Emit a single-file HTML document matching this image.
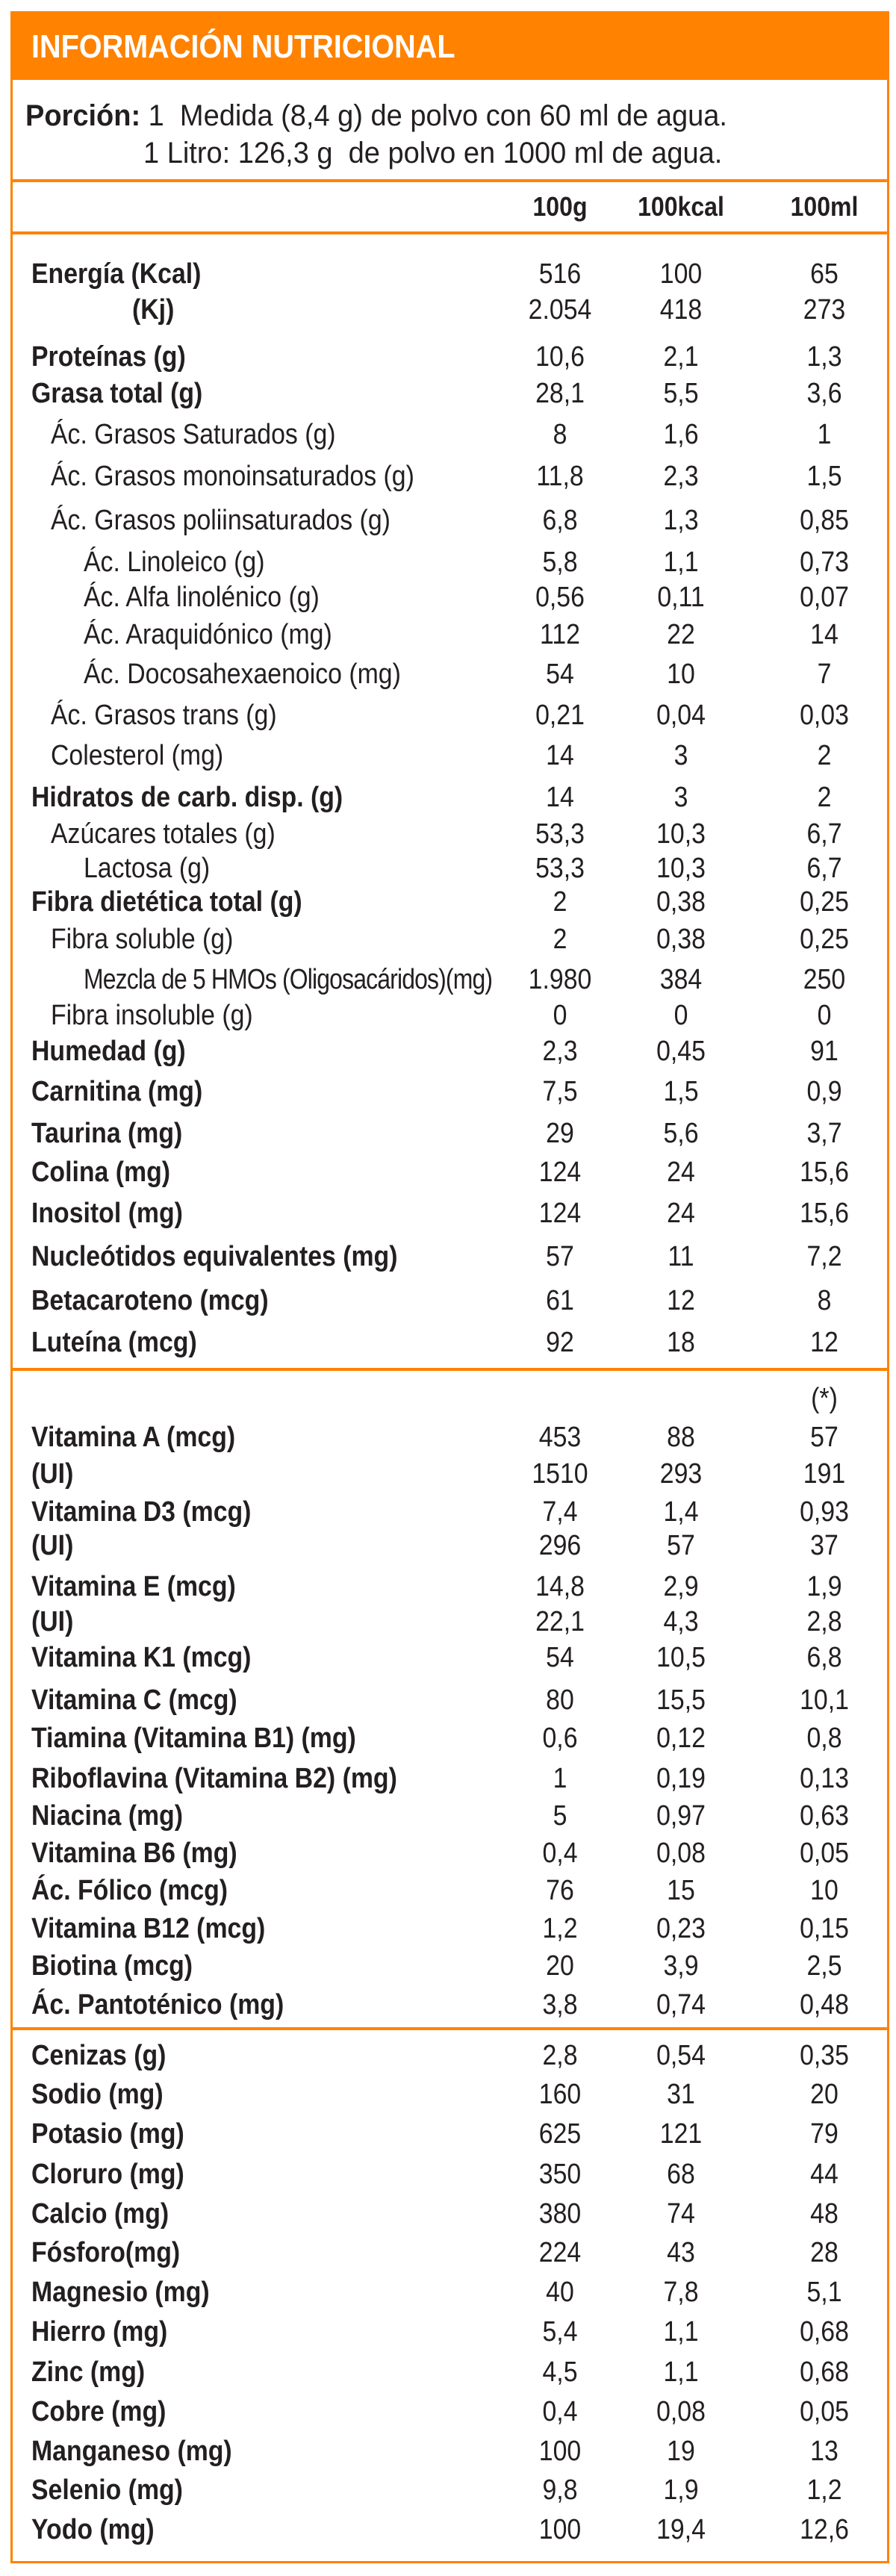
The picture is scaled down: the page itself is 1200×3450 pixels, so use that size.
<!DOCTYPE html>
<html><head><meta charset="utf-8">
<style>
html,body{margin:0;padding:0;background:#fff;}
#page{position:relative;width:1200px;height:3450px;overflow:hidden;font-family:"Liberation Sans",sans-serif;color:#231f20;}
.box{position:absolute;left:14px;top:15px;width:1171px;height:3412px;border:3px solid #ff8200;}
.hdr{position:absolute;left:14px;top:15px;width:1177px;height:92px;background:#ff8200;}
.hline{position:absolute;left:14px;width:1177px;height:4px;background:#ff8200;}
.t{position:absolute;white-space:nowrap;line-height:40px;font-size:38px;transform:scaleX(0.89);transform-origin:left center;}
.v{position:absolute;white-space:nowrap;line-height:40px;font-size:38px;width:200px;text-align:center;transform:scaleX(0.89);transform-origin:center center;}
.b{font-weight:bold;}
</style></head>
<body>
<div id="page">
  <div class="box"></div>
  <div class="hdr"></div>
  <div class="t b" style="left:42px;top:36px;font-size:44px;line-height:54px;color:#fff;transform:scaleX(0.9);">INFORMACIÓN NUTRICIONAL</div>
  <div class="t" style="left:34px;top:135px;font-size:40px;transform:scaleX(0.95);"><b>Porción:</b> 1&nbsp; Medida (8,4 g) de polvo con 60 ml de agua.</div>
  <div class="t" style="left:192px;top:185px;font-size:40px;transform:scaleX(0.95);">1 Litro: 126,3 g&nbsp; de polvo en 1000 ml de agua.</div>
  <div class="hline" style="top:240px;"></div>
  <div class="v b" style="left:650px;top:257px;font-size:36px;">100g</div>
  <div class="v b" style="left:812px;top:257px;font-size:36px;">100kcal</div>
  <div class="v b" style="left:1004px;top:257px;font-size:36px;">100ml</div>
  <div class="hline" style="top:310px;"></div>
  <div class="hline" style="top:1832px;"></div>
  <div class="hline" style="top:2715px;"></div>
  <div class="v" style="left:1004px;top:1853px;">(*)</div>
</div>
<script>
const labels = ["Energía (Kcal)","(Kj)","Proteínas (g)","Grasa total (g)","Ác. Grasos Saturados (g)","Ác. Grasos monoinsaturados (g)","Ác. Grasos poliinsaturados (g)","Ác. Linoleico (g)","Ác. Alfa linolénico (g)","Ác. Araquidónico (mg)","Ác. Docosahexaenoico (mg)","Ác. Grasos trans (g)","Colesterol (mg)","Hidratos de carb. disp. (g)","Azúcares totales (g)","Lactosa (g)","Fibra dietética total (g)","Fibra soluble (g)","Mezcla de 5 HMOs (Oligosacáridos)(mg)","Fibra insoluble (g)","Humedad (g)","Carnitina (mg)","Taurina (mg)","Colina (mg)","Inositol (mg)","Nucleótidos equivalentes (mg)","Betacaroteno (mcg)","Luteína (mcg)","Vitamina A (mcg)","(UI)","Vitamina D3 (mcg)","(UI)","Vitamina E (mcg)","(UI)","Vitamina K1 (mcg)","Vitamina C (mcg)","Tiamina (Vitamina B1) (mg)","Riboflavina (Vitamina B2) (mg)","Niacina (mg)","Vitamina B6 (mg)","Ác. Fólico (mcg)","Vitamina B12 (mcg)","Biotina (mcg)","Ác. Pantoténico (mg)","Cenizas (g)","Sodio (mg)","Potasio (mg)","Cloruro (mg)","Calcio (mg)","Fósforo(mg)","Magnesio (mg)","Hierro (mg)","Zinc (mg)","Cobre (mg)","Manganeso (mg)","Selenio (mg)","Yodo (mg)"];
const per100g = ["516","2.054","10,6","28,1","8","11,8","6,8","5,8","0,56","112","54","0,21","14","14","53,3","53,3","2","2","1.980","0","2,3","7,5","29","124","124","57","61","92","453","1510","7,4","296","14,8","22,1","54","80","0,6","1","5","0,4","76","1,2","20","3,8","2,8","160","625","350","380","224","40","5,4","4,5","0,4","100","9,8","100"];
const per100kcal = ["100","418","2,1","5,5","1,6","2,3","1,3","1,1","0,11","22","10","0,04","3","3","10,3","10,3","0,38","0,38","384","0","0,45","1,5","5,6","24","24","11","12","18","88","293","1,4","57","2,9","4,3","10,5","15,5","0,12","0,19","0,97","0,08","15","0,23","3,9","0,74","0,54","31","121","68","74","43","7,8","1,1","1,1","0,08","19","1,9","19,4"];
const per100ml = ["65","273","1,3","3,6","1","1,5","0,85","0,73","0,07","14","7","0,03","2","2","6,7","6,7","0,25","0,25","250","0","91","0,9","3,7","15,6","15,6","7,2","8","12","57","191","0,93","37","1,9","2,8","6,8","10,1","0,8","0,13","0,63","0,05","10","0,15","2,5","0,48","0,35","20","79","44","48","28","5,1","0,68","0,68","0,05","13","1,2","12,6"];
const levels = [0,9,0,0,1,1,1,2,2,2,2,1,1,0,1,2,0,1,2,1,0,0,0,0,0,0,0,0,0,0,0,0,0,0,0,0,0,0,0,0,0,0,0,0,0,0,0,0,0,0,0,0,0,0,0,0,0];
const rowY = [367,415,478,527,582,638,697,753,800,850,903,958,1012,1068,1117,1163,1208,1258,1312,1360,1408,1462,1518,1570,1625,1683,1742,1798,1925,1974,2025,2070,2125,2172,2220,2277,2328,2382,2432,2482,2532,2583,2633,2685,2753,2805,2858,2912,2965,3017,3070,3123,3177,3230,3283,3335,3388];
const page = document.getElementById('page');
const indentX = {0:42,1:68,2:112,9:177};
const colX = [750,912,1104];
labels.forEach((lab,i)=>{
  const lv = levels[i];
  const l = document.createElement('div');
  l.className = 't' + ((lv===0||lv===9) ? ' b' : '');
  l.style.left = indentX[lv] + 'px';
  l.style.top = (rowY[i]-20) + 'px';
  if (lab.startsWith('Mezcla')) { l.style.letterSpacing='-1px'; l.style.transform='scaleX(0.84)'; }
  l.textContent = lab;
  
  
  page.appendChild(l);
  [per100g[i],per100kcal[i],per100ml[i]].forEach((val,c)=>{
    const v = document.createElement('div');
    v.className = 'v';
    v.style.left = (colX[c]-100) + 'px';
    v.style.top = (rowY[i]-20) + 'px';
    v.textContent = val;
    
    
    page.appendChild(v);
  });
});
</script>
</body></html>
